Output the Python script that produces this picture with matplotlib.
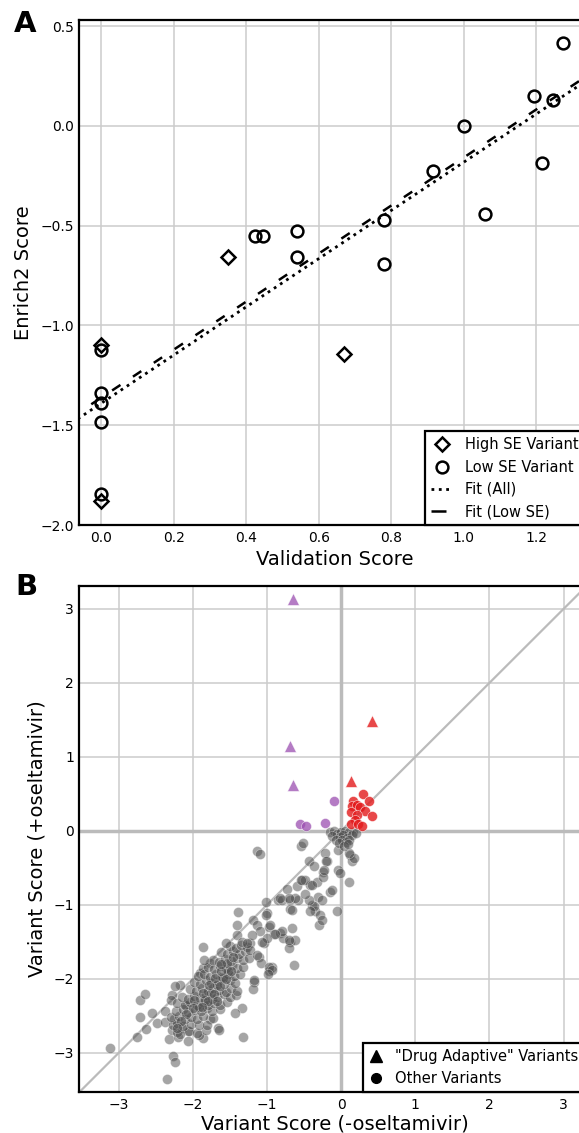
import numpy as np
import matplotlib.pyplot as plt
from matplotlib.lines import Line2D

# ---- panel A data (validation vs Enrich2) ----
high_se_x = [0.0, 0.0, 0.35, 0.67]
high_se_y = [-1.10, -1.88, -0.655, -1.145]

low_se_x = [0.0, 0.0, 0.0, 0.0, 0.0, 0.425, 0.445, 0.54, 0.54, 0.78, 0.78,
            0.915, 1.0, 1.06, 1.195, 1.215, 1.245, 1.275]
low_se_y = [-1.125, -1.34, -1.39, -1.485, -1.845, -0.55, -0.55, -0.525, -0.655,
            -0.47, -0.69, -0.225, 0.0, -0.44, 0.15, -0.185, 0.13, 0.415]

# ---- panel B data (variant scores with / without drug) ----
# drug adaptive variants (triangles)
adapt_purple_x = [-0.65, -0.69, -0.65]
adapt_purple_y = [3.13, 1.15, 0.62]
adapt_red_x = [0.42, 0.13]
adapt_red_y = [1.48, 0.67]

# other variants, coloured
purple_x = [-0.55, -0.47, -0.22, -0.09]
purple_y = [0.09, 0.06, 0.10, 0.40]
red_x = [0.30, 0.16, 0.38, 0.14, 0.21, 0.25, 0.32, 0.13, 0.22, 0.41, 0.19, 0.13, 0.23, 0.28]
red_y = [0.50, 0.41, 0.41, 0.34, 0.35, 0.32, 0.27, 0.26, 0.22, 0.20, 0.14, 0.09, 0.09, 0.07]

# other variants, grey
other_x = [
    # lower left tail
    -3.12, -2.75, -2.72, -2.72, -2.64, -2.55, -2.63, -2.48, -2.37, -2.38,
    -2.32, -2.27, -2.24, -2.35, -2.07, -1.86, -1.66, -1.32, -1.34, -1.43,
    -2.20, -2.28, -2.15, -2.26, -2.06, -1.92, -1.83, -1.65, -1.77, -2.28,
    -2.17, -2.24, -2.30, -2.10, -1.90, -1.86, -1.77,
    # dense band
    -2.22, -2.17, -2.05, -1.95,
    -2.27, -2.21, -2.13, -2.03, -1.92, -1.81,
    -2.30, -2.19, -2.11, -2.02, -1.94, -1.86, -1.73,
    -2.23, -2.14, -2.06, -1.97, -1.89, -1.81, -1.74, -1.63,
    -2.21, -2.11, -2.04, -1.95, -1.87, -1.79, -1.71, -1.63, -1.54,
    -2.15, -2.07, -1.99, -1.90, -1.82, -1.74, -1.67, -1.58, -1.50, -1.42,
    -2.04, -1.96, -1.88, -1.80, -1.73, -1.65, -1.56, -1.48, -1.40,
    -1.99, -1.91, -1.83, -1.75, -1.66, -1.58, -1.50, -1.43,
    -1.93, -1.85, -1.77, -1.69, -1.61, -1.53, -1.45, -1.37,
    -1.79, -1.71, -1.63, -1.55, -1.47, -1.40, -1.32,
    -1.73, -1.65, -1.57, -1.49, -1.41, -1.33,
    -1.62, -1.54, -1.46, -1.38, -1.30,
    -1.50, -1.42, -1.35, -1.27,
    -1.92, -1.84, -1.76, -1.68, -1.60, -1.52, -1.86, -1.78, -1.70, -1.62,
    -1.54, -1.98, -1.80, -1.72, -1.64, -1.56, -1.48, -1.46, -1.62, -1.88,
    -2.00, -2.10, -2.16, -2.22, -1.68,
    # middle
    -1.86, -1.85, -1.39, -1.41, -1.40, -1.55, -1.13, -1.10, -1.19, -1.14,
    -1.09, -1.02, -1.00, -0.97, -1.04, -1.11, -1.08, -0.93, -0.97, -1.18,
    -1.19, -1.25, -1.23, -0.91, -0.82, -0.78, -0.69, -0.71, -0.62, -0.66,
    -0.64, -0.85, -0.80, -0.69, -0.73, -0.60, -0.58, -0.53, -0.54, -0.52,
    -0.44, -0.37, -0.42, -0.33, -0.39, -0.35, -0.31, -0.30, -0.69, -0.49,
    -0.54, -0.40, -0.24, -0.24, -0.19, -0.22, -0.15, -0.13, -0.26, -0.28,
    -0.26, -0.06, -0.37, -0.42, -0.44, -0.49, -0.62, -0.71, -0.66, -0.80,
    -0.71, -0.04, -0.01, 0.12, 0.14, 0.17, 0.11, -0.04, -0.20, -0.23,
    0.10, -0.82, -1.01, -0.96, -1.00, -1.07, -0.89, -0.98, -0.93, -0.99,
    -1.18, -1.23, -1.14, -1.20, -1.34, -1.27,
    # around the origin
    -0.15, -0.10, -0.05, 0.00, 0.05, 0.10, 0.16, -0.12, -0.02, 0.03,
    0.08, 0.14, -0.07, 0.01, 0.06, 0.11, -0.03, 0.04, 0.09, 0.20,
]
other_y = [
    # lower left tail
    -2.94, -2.79, -2.51, -2.28, -2.21, -2.46, -2.68, -2.60, -2.59, -2.44,
    -2.81, -3.05, -3.13, -3.35, -2.84, -2.80, -2.67, -2.79, -2.40, -2.46,
    -2.79, -2.69, -2.67, -2.55, -2.71, -2.76, -2.69, -2.69, -2.55, -2.22,
    -2.08, -2.10, -2.28, -2.35, -1.92, -1.86, -1.79,
    # dense band
    -2.72, -2.75, -2.70, -2.73,
    -2.63, -2.60, -2.64, -2.61, -2.63, -2.62,
    -2.52, -2.50, -2.54, -2.51, -2.55, -2.50, -2.53,
    -2.43, -2.41, -2.45, -2.42, -2.44, -2.40, -2.44, -2.41,
    -2.33, -2.36, -2.31, -2.35, -2.32, -2.36, -2.33, -2.35, -2.31,
    -2.24, -2.27, -2.23, -2.26, -2.22, -2.27, -2.24, -2.21, -2.25, -2.22,
    -2.14, -2.17, -2.13, -2.16, -2.12, -2.15, -2.18, -2.13, -2.16,
    -2.04, -2.07, -2.02, -2.06, -2.03, -2.07, -2.02, -2.05,
    -1.96, -1.93, -1.97, -1.94, -1.98, -1.93, -1.96, -1.94,
    -1.84, -1.87, -1.83, -1.86, -1.82, -1.86, -1.84,
    -1.74, -1.77, -1.73, -1.76, -1.72, -1.75,
    -1.64, -1.67, -1.63, -1.66, -1.62,
    -1.55, -1.58, -1.54, -1.57,
    -2.38, -2.29, -2.19, -2.09, -1.99, -1.89, -2.19, -2.09, -1.99, -1.89,
    -1.79, -2.29, -2.30, -2.20, -2.10, -2.00, -1.90, -1.70, -1.80, -2.38,
    -2.40, -2.48, -2.57, -2.66, -2.30,
    # middle
    -1.57, -1.74, -1.10, -1.27, -1.41, -1.51, -0.27, -0.31, -1.20, -1.27,
    -1.36, -0.96, -1.11, -1.30, -1.52, -1.70, -1.79, -1.84, -1.90, -2.04,
    -2.14, -1.72, -1.51, -1.39, -1.38, -1.45, -1.50, -1.58, -1.47, -1.32,
    -1.82, -0.93, -0.93, -0.93, -0.78, -0.75, -0.93, -0.66, -0.21, -0.16,
    -0.41, -0.48, -0.73, -0.69, -1.00, -1.09, -0.89, -1.27, -1.05, -0.66,
    -0.67, -0.73, -0.55, -0.62, -0.41, -0.30, -0.82, -0.80, -0.93, -1.14,
    -1.20, -1.09, -1.02, -1.09, -0.93, -0.86, -0.91, -0.91, -1.07, -1.36,
    -1.47, -0.53, -0.57, -0.32, -0.41, -0.37, -0.69, -0.26, -0.41, -0.53,
    -0.30, -0.91, -1.14, -1.27, -1.45, -1.50, -1.39, -1.84, -1.88, -1.93,
    -2.01, -1.61, -1.68, -1.41, -1.50, -1.51,
    # around the origin
    -0.02, 0.00, -0.04, -0.02, 0.00, -0.02, -0.01, -0.07, -0.08, -0.06,
    -0.09, -0.05, -0.12, -0.13, -0.15, -0.12, -0.17, -0.21, -0.18, -0.03,
]

plt.rcParams['font.family'] = 'DejaVu Sans'

fig = plt.figure(figsize=(5.79, 11.33), dpi=100)
# axes run a little past the right edge of the figure, like the cropped original
axA = fig.add_axes([0.1373, 0.5366, 0.8834, 0.4457])
axB = fig.add_axes([0.1373, 0.0362, 0.8834, 0.4466])

for ax in (axA, axB):
    ax.grid(True, color='#cccccc', lw=1.1, zorder=0)
    ax.set_axisbelow(True)
    for sp in ax.spines.values():
        sp.set_linewidth(1.6)
        sp.set_color('black')
    ax.tick_params(length=0, pad=4, labelsize=10)

# ---------------- panel A ----------------
all_x = np.array(high_se_x + low_se_x)
all_y = np.array(high_se_y + low_se_y)
fit_all = np.polyfit(all_x, all_y, 1)
fit_low = np.polyfit(low_se_x, low_se_y, 1)
xs = np.array([-0.2, 1.6])

axA.plot(xs, np.polyval(fit_all, xs), color='black', ls=':', lw=2, zorder=2)
axA.plot(xs, np.polyval(fit_low, xs), color='black', lw=1.8, dashes=(4, 6), zorder=2)
axA.plot(high_se_x, high_se_y, 'D', ms=7, mfc='none', mec='black', mew=1.8, zorder=3)
axA.plot(low_se_x, low_se_y, 'o', ms=8.5, mfc='none', mec='black', mew=1.8, zorder=3)

axA.set_xlim(-0.06, 1.351)
axA.set_ylim(-2.0, 0.53)
axA.set_xticks([0.0, 0.2, 0.4, 0.6, 0.8, 1.0, 1.2])
axA.set_yticks([-2.0, -1.5, -1.0, -0.5, 0.0, 0.5])
axA.set_xlabel('Validation Score', fontsize=14, labelpad=4)
axA.set_ylabel('Enrich2 Score', fontsize=14, labelpad=5)

hA = [
    Line2D([], [], ls='none', marker='D', ms=7, mfc='none', mec='black', mew=1.8),
    Line2D([], [], ls='none', marker='o', ms=8.5, mfc='none', mec='black', mew=1.8),
    Line2D([], [], color='black', ls=':', lw=2),
    Line2D([], [], color='black', lw=1.8, dashes=(6, 6)),
]
legA = axA.legend(hA, ['High SE Variant', 'Low SE Variant', 'Fit (All)', 'Fit (Low SE)'],
                  loc='lower right', bbox_to_anchor=(0.9863, 0), borderaxespad=0,
                  fancybox=False, edgecolor='black', framealpha=1,
                  fontsize=10.5, handlelength=1.5)
legA.get_frame().set_linewidth(1.6)

# ---------------- panel B ----------------
axB.axhline(0, color='#bbbbbb', lw=2.5, zorder=1)
axB.axvline(0, color='#bbbbbb', lw=2.5, zorder=1)
axB.plot([-4, 4], [-4, 4], color='#bbbbbb', lw=1.6, zorder=1)

axB.scatter(other_x, other_y, s=52, c='#4d4d4d', alpha=0.5,
            edgecolors='white', linewidths=0.4, zorder=3)
axB.scatter(purple_x, purple_y, s=52, c='#9b4fb0', alpha=0.75,
            edgecolors='white', linewidths=0.4, zorder=4)
axB.scatter(red_x, red_y, s=52, c='#e31a1c', alpha=0.8,
            edgecolors='white', linewidths=0.4, zorder=4)
axB.scatter(adapt_purple_x, adapt_purple_y, s=72, marker='^', c='#9b4fb0', alpha=0.75,
            edgecolors='white', linewidths=0.4, zorder=4)
axB.scatter(adapt_red_x, adapt_red_y, s=72, marker='^', c='#e31a1c', alpha=0.8,
            edgecolors='white', linewidths=0.4, zorder=4)

axB.set_xlim(-3.53, 3.37)
axB.set_ylim(-3.53, 3.31)
axB.set_xticks([-3, -2, -1, 0, 1, 2, 3])
axB.set_yticks([-3, -2, -1, 0, 1, 2, 3])
axB.set_xlabel('Variant Score (-oseltamivir)', fontsize=14, labelpad=2)
axB.set_ylabel('Variant Score (+oseltamivir)', fontsize=14, labelpad=5)

hB = [
    Line2D([], [], ls='none', marker='^', ms=8, color='black'),
    Line2D([], [], ls='none', marker='o', ms=7, color='black'),
]
legB = axB.legend(hB, ['"Drug Adaptive" Variants', 'Other Variants'],
                  loc='lower right', bbox_to_anchor=(0.9863, 0), borderaxespad=0,
                  fancybox=False, edgecolor='black', framealpha=1,
                  fontsize=10.5, handlelength=1.0)
legB.get_frame().set_linewidth(1.6)

fig.text(0.024, 0.991, 'A', fontsize=21, fontweight='bold', va='top')
fig.text(0.026, 0.494, 'B', fontsize=21, fontweight='bold', va='top')

fig.savefig('out.png', dpi=100)
